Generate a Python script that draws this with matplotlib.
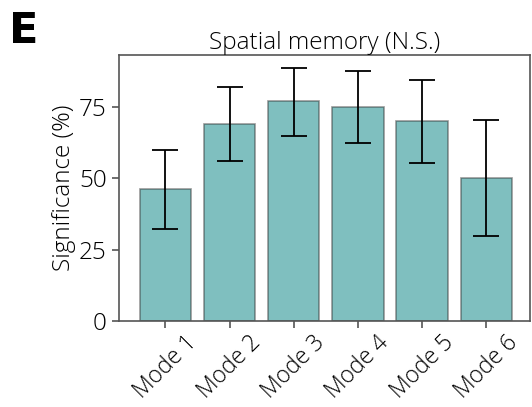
import matplotlib.pyplot as plt
import numpy as np

plt.rcParams["font.family"] = ["Open Sans", "DejaVu Sans"]

modes = ["Mode 1", "Mode 2", "Mode 3", "Mode 4", "Mode 5", "Mode 6"]
significance = [46.3, 69.2, 77.0, 75.0, 70.0, 50.0]
err_low = [32.3, 56.3, 65.0, 62.5, 55.5, 29.7]
err_high = [60.0, 82.1, 88.7, 87.5, 84.5, 70.4]

x = np.arange(len(modes))
vals = np.array(significance)
yerr = [vals - np.array(err_low), np.array(err_high) - vals]

fig = plt.figure(figsize=(5.32, 4.07), dpi=100)
ax = fig.add_axes([0.224, 0.211, 0.772, 0.654])

ax.bar(x, vals, width=0.8, color="teal", alpha=0.5, edgecolor="#333333",
       linewidth=1.2)
ax.errorbar(x, vals, yerr=yerr, fmt="none", ecolor="black", elinewidth=1.3,
            capsize=9.5, capthick=1.3)

ax.set_xlim(-0.72, 5.68)
ax.set_ylim(0, 93.3)
ax.set_yticks([0, 25, 50, 75])
ax.set_xticks(x)
ax.set_xticklabels(modes, rotation=45, ha="center", fontsize=16.5,
                   fontweight=300)
for lbl in ax.get_yticklabels():
    lbl.set_fontsize(17.5)
    lbl.set_fontweight(300)
ax.set_ylabel("Significance (%)", fontsize=17.5, fontweight=300, labelpad=2)
ax.set_title("Spatial memory (N.S.)", fontsize=17.5, fontweight=300, pad=3)

for sp in ax.spines.values():
    sp.set_color("#555555")
    sp.set_linewidth(1.2)
ax.tick_params(color="#555555", length=5, width=1.2, pad=4)
ax.tick_params(axis="x", pad=2)

fig.text(0.017, 0.975, "E", fontsize=31, fontweight="bold", va="top",
         ha="left", family=["DejaVu Sans"])

fig.savefig("out.png", dpi=100)
